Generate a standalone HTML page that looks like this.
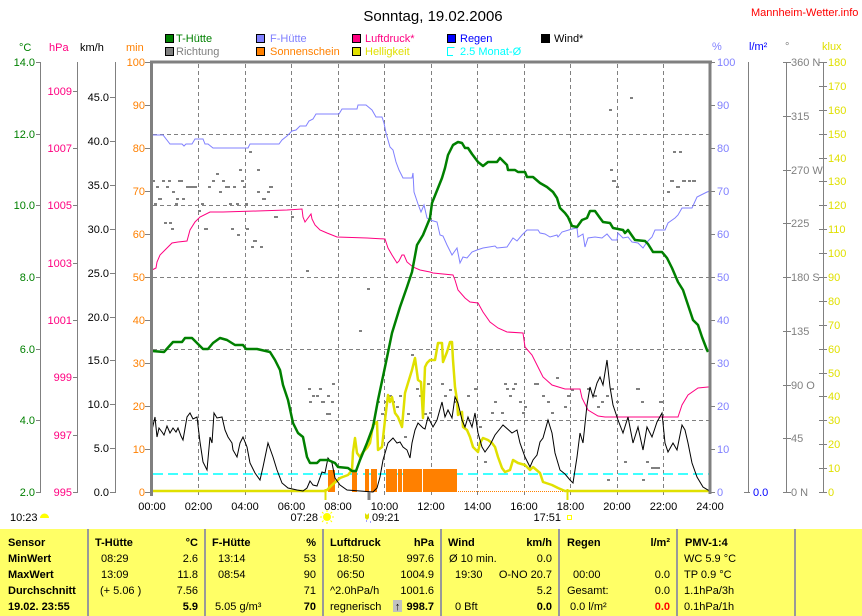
<!DOCTYPE html>
<html><head><meta charset="utf-8"><style>
html,body{margin:0;padding:0;background:#fff;}
svg{display:block;font-family:"Liberation Sans",sans-serif;}
</style></head><body>
<svg width="862" height="616" viewBox="0 0 862 616" xmlns="http://www.w3.org/2000/svg">
<rect x="0" y="0" width="862" height="616" fill="#fff"/>
<!-- Title -->
<text x="433" y="21" font-size="15" text-anchor="middle" fill="#000">Sonntag, 19.02.2006</text>
<text x="751" y="16" font-size="11" fill="#FF0000">Mannheim-Wetter.info</text>

<!-- Legend -->
<g font-size="11">
<rect x="165.5" y="34.5" width="8" height="8" fill="#008000" stroke="#000"/><text x="176" y="42" fill="#008000">T-Hütte</text>
<rect x="165.5" y="47.5" width="8" height="8" fill="#808080" stroke="#000"/><text x="176" y="55" fill="#808080">Richtung</text>
<rect x="256.5" y="34.5" width="8" height="8" fill="#8080FF" stroke="#000"/><text x="270" y="42" fill="#8080FF">F-Hütte</text>
<rect x="256.5" y="47.5" width="8" height="8" fill="#FF8000" stroke="#000"/><text x="270" y="55" fill="#FF8000">Sonnenschein</text>
<rect x="352.5" y="34.5" width="8" height="8" fill="#FF0080" stroke="#000"/><text x="365" y="42" fill="#FF0080">Luftdruck*</text>
<rect x="352.5" y="47.5" width="8" height="8" fill="#E0E000" stroke="#000"/><text x="365" y="55" fill="#E0E000">Helligkeit</text>
<rect x="447.5" y="34.5" width="8" height="8" fill="#0000FF" stroke="#000"/><text x="460" y="42" fill="#0000FF">Regen</text>
<path d="M454.5,47.5 H447.5 V55.5 H453" fill="none" stroke="#00FFFF"/><text x="460" y="55" fill="#00FFFF">2.5 Monat-Ø</text>
<rect x="541.5" y="34.5" width="8" height="8" fill="#000" stroke="#000"/><text x="554" y="42" fill="#000">Wind*</text>
</g>

<!-- Axis headers -->
<g font-size="11">
<text x="19" y="51" fill="#008000">°C</text>
<text x="49" y="51" fill="#FF0080">hPa</text>
<text x="80" y="51" fill="#000">km/h</text>
<text x="126" y="51" fill="#FF8000">min</text>
<text x="712" y="50" fill="#8080FF">%</text>
<text x="749" y="50" fill="#0000FF">l/m²</text>
<text x="785" y="50" fill="#808080">°</text>
<text x="822" y="50" fill="#E0E000">klux</text>
</g>

<!-- Left axes -->
<g stroke="#808080" stroke-width="1" fill="none">
<line x1="40.5" y1="62" x2="40.5" y2="492"/>
<line x1="77.5" y1="62" x2="77.5" y2="492"/>
<line x1="115.5" y1="62" x2="115.5" y2="492"/>
<path d="M36,62.5H41 M36,134.5H41 M36,205.5H41 M36,277.5H41 M36,349.5H41 M36,420.5H41 M36,492.5H41"/>
<path d="M73,91.5H78 M73,148.5H78 M73,205.5H78 M73,263.5H78 M73,320.5H78 M73,377.5H78 M73,435.5H78 M73,492.5H78"/>
<path d="M110,97.5H116 M110,141.5H116 M110,185.5H116 M110,229.5H116 M110,273.5H116 M110,317.5H116 M110,360.5H116 M110,404.5H116 M110,448.5H116 M110,492.5H116"/>
<path d="M145,62.5H151 M145,105.5H151 M145,148.5H151 M145,191.5H151 M145,234.5H151 M145,277.5H151 M145,320.5H151 M145,363.5H151 M145,406.5H151 M145,449.5H151 M145,492.5H151"/>
</g>
<g font-size="11" text-anchor="end">
<g fill="#008000">
<text x="35" y="66">14.0</text><text x="35" y="138">12.0</text><text x="35" y="209">10.0</text><text x="35" y="281">8.0</text><text x="35" y="353">6.0</text><text x="35" y="424">4.0</text><text x="35" y="496">2.0</text>
</g>
<g fill="#FF0080">
<text x="72" y="95">1009</text><text x="72" y="152">1007</text><text x="72" y="209">1005</text><text x="72" y="267">1003</text><text x="72" y="324">1001</text><text x="72" y="381">999</text><text x="72" y="439">997</text><text x="72" y="496">995</text>
</g>
<g fill="#000">
<text x="109" y="101">45.0</text><text x="109" y="145">40.0</text><text x="109" y="189">35.0</text><text x="109" y="233">30.0</text><text x="109" y="277">25.0</text><text x="109" y="321">20.0</text><text x="109" y="364">15.0</text><text x="109" y="408">10.0</text><text x="109" y="452">5.0</text><text x="109" y="496">0.0</text>
</g>
<g fill="#FF8000">
<text x="145" y="66">100</text><text x="145" y="109">90</text><text x="145" y="152">80</text><text x="145" y="195">70</text><text x="145" y="238">60</text><text x="145" y="281">50</text><text x="145" y="324">40</text><text x="145" y="367">30</text><text x="145" y="410">20</text><text x="145" y="453">10</text><text x="145" y="496">0</text>
</g>
</g>

<!-- Right axes -->
<g stroke="#808080" stroke-width="1" fill="none">
<path d="M711,62.5H715 M711,105.5H715 M711,148.5H715 M711,191.5H715 M711,234.5H715 M711,277.5H715 M711,320.5H715 M711,363.5H715 M711,406.5H715 M711,449.5H715 M711,492.5H715"/>
<line x1="748.5" y1="62" x2="748.5" y2="493"/>
<path d="M744,492.5H750"/>
<line x1="786.5" y1="62" x2="786.5" y2="493"/>
<path d="M783,62.5H791 M783,116.5H791 M783,170.5H791 M783,223.5H791 M783,277.5H791 M783,331.5H791 M783,385.5H791 M783,438.5H791 M783,492.5H791"/>
<line x1="823.5" y1="62" x2="823.5" y2="493"/>
<path d="M819,62.5H827 M819,86.5H827 M819,110.5H827 M819,134.5H827 M819,158.5H827 M819,181.5H827 M819,205.5H827 M819,229.5H827 M819,253.5H827 M819,277.5H827 M819,301.5H827 M819,325.5H827 M819,349.5H827 M819,373.5H827 M819,396.5H827 M819,420.5H827 M819,444.5H827 M819,468.5H827 M819,492.5H827"/>
</g>
<g font-size="11">
<g fill="#8080FF">
<text x="717" y="66">100</text><text x="717" y="109">90</text><text x="717" y="152">80</text><text x="717" y="195">70</text><text x="717" y="238">60</text><text x="717" y="281">50</text><text x="717" y="324">40</text><text x="717" y="367">30</text><text x="717" y="410">20</text><text x="717" y="453">10</text><text x="717" y="496">0</text>
</g>
<text x="753" y="496" fill="#0000FF">0.0</text>
<g fill="#808080">
<text x="791" y="66">360 N</text><text x="791" y="120">315</text><text x="791" y="174">270 W</text><text x="791" y="227">225</text><text x="791" y="281">180 S</text><text x="791" y="335">135</text><text x="791" y="389">90 O</text><text x="791" y="442">45</text><text x="791" y="496">0 N</text>
</g>
<g fill="#E0E000">
<text x="828" y="66">180</text><text x="828" y="90">170</text><text x="828" y="114">160</text><text x="828" y="138">150</text><text x="828" y="162">140</text><text x="828" y="185">130</text><text x="828" y="209">120</text><text x="828" y="233">110</text><text x="828" y="257">100</text><text x="828" y="281">90</text><text x="828" y="305">80</text><text x="828" y="329">70</text><text x="828" y="353">60</text><text x="828" y="377">50</text><text x="828" y="400">40</text><text x="828" y="424">30</text><text x="828" y="448">20</text><text x="828" y="472">10</text><text x="828" y="496">0</text>
</g>
</g>

<!-- Grid -->
<g stroke="#808080" stroke-width="1" stroke-dasharray="4,3" fill="none">
<path d="M153,134.5H709 M153,205.5H709 M153,277.5H709 M153,349.5H709 M153,420.5H709"/>
<path d="M198.5,64V498 M245.5,64V498 M291.5,64V498 M338.5,64V498 M384.5,64V498 M431.5,64V498 M477.5,64V498 M524.5,64V498 M570.5,64V498 M617.5,64V498 M663.5,64V498"/>
</g>

<!-- Cyan average -->
<line x1="153" y1="474" x2="709" y2="474" stroke="#00FFFF" stroke-width="1.5" stroke-dasharray="10,5"/>

<!-- Sunshine bars -->
<g fill="#FF8000">
<rect x="328" y="470" width="7" height="22"/>
<rect x="352" y="470" width="5" height="22"/>
<rect x="365" y="469" width="4" height="23"/>
<rect x="371" y="469" width="6" height="23"/>
<rect x="386" y="469" width="11" height="23"/>
<rect x="398" y="469" width="4" height="23"/>
<rect x="403" y="469" width="19" height="23"/>
<rect x="423" y="469" width="34" height="23"/>
</g>
<line x1="458" y1="491.5" x2="565" y2="491.5" stroke="#FF8000" stroke-dasharray="1,1"/>

<!-- Richtung dots -->
<g fill="#808080">
<rect x="152" y="180" width="3" height="2"/><rect x="162" y="180" width="3" height="2"/><rect x="168" y="180" width="3" height="2"/><rect x="178" y="180" width="5" height="2"/>
<rect x="156" y="186" width="3" height="2"/><rect x="166" y="186" width="3" height="2"/><rect x="186" y="186" width="11" height="2"/><rect x="208" y="186" width="3" height="2"/>
<rect x="212" y="180" width="3" height="2"/><rect x="222" y="180" width="3" height="2"/><rect x="225" y="186" width="5" height="2"/><rect x="233" y="186" width="3" height="2"/>
<rect x="241" y="180" width="3" height="2"/><rect x="243" y="186" width="3" height="2"/><rect x="269" y="186" width="4" height="2"/>
<rect x="172" y="191" width="3" height="2"/><rect x="219" y="191" width="3" height="2"/><rect x="257" y="191" width="3" height="2"/><rect x="267" y="191" width="3" height="2"/>
<rect x="158" y="198" width="4" height="2"/><rect x="176" y="198" width="3" height="2"/><rect x="182" y="198" width="3" height="2"/><rect x="262" y="198" width="4" height="2"/>
<rect x="154" y="203" width="3" height="2"/><rect x="175" y="203" width="3" height="2"/><rect x="201" y="203" width="3" height="2"/><rect x="229" y="203" width="3" height="2"/><rect x="236" y="203" width="3" height="2"/><rect x="245" y="203" width="3" height="2"/>
<rect x="198" y="210" width="3" height="2"/><rect x="164" y="222" width="3" height="2"/><rect x="169" y="222" width="3" height="2"/><rect x="171" y="228" width="3" height="2"/><rect x="204" y="228" width="4" height="2"/>
<rect x="231" y="228" width="3" height="2"/><rect x="246" y="228" width="3" height="2"/><rect x="237" y="234" width="3" height="2"/><rect x="253" y="240" width="4" height="2"/><rect x="251" y="246" width="3" height="2"/><rect x="260" y="246" width="3" height="2"/>
<rect x="274" y="216" width="4" height="2"/><rect x="291" y="216" width="3" height="2"/><rect x="306" y="270" width="3" height="2"/><rect x="239" y="169" width="3" height="2"/><rect x="257" y="169" width="3" height="2"/><rect x="216" y="173" width="3" height="2"/><rect x="249" y="151" width="3" height="2"/>
<rect x="308" y="388" width="3" height="2"/><rect x="319" y="388" width="3" height="2"/><rect x="312" y="395" width="3" height="2"/><rect x="316" y="395" width="3" height="2"/><rect x="327" y="395" width="3" height="2"/>
<rect x="309" y="401" width="3" height="2"/><rect x="321" y="401" width="4" height="2"/><rect x="331" y="401" width="3" height="2"/><rect x="326" y="413" width="5" height="2"/><rect x="332" y="383" width="3" height="2"/>
<rect x="359" y="330" width="3" height="2"/><rect x="367" y="288" width="3" height="2"/><rect x="377" y="401" width="3" height="2"/><rect x="381" y="413" width="3" height="2"/><rect x="384" y="401" width="3" height="2"/>
<rect x="389" y="395" width="3" height="2"/><rect x="392" y="401" width="3" height="2"/><rect x="396" y="406" width="3" height="2"/><rect x="399" y="395" width="3" height="2"/><rect x="404" y="436" width="3" height="2"/>
<rect x="407" y="413" width="3" height="2"/><rect x="411" y="354" width="3" height="2"/><rect x="416" y="388" width="3" height="2"/><rect x="419" y="395" width="5" height="2"/><rect x="424" y="413" width="3" height="2"/><rect x="427" y="383" width="3" height="2"/>
<rect x="429" y="412" width="3" height="2"/><rect x="441" y="383" width="3" height="2"/><rect x="444" y="395" width="3" height="2"/><rect x="449" y="389" width="3" height="2"/><rect x="454" y="401" width="3" height="2"/>
<rect x="467" y="395" width="3" height="2"/><rect x="474" y="388" width="3" height="2"/><rect x="479" y="426" width="3" height="2"/><rect x="484" y="461" width="3" height="2"/><rect x="491" y="412" width="3" height="2"/>
<rect x="494" y="401" width="3" height="2"/><rect x="501" y="412" width="3" height="2"/><rect x="504" y="383" width="3" height="2"/><rect x="506" y="388" width="3" height="2"/><rect x="509" y="395" width="3" height="2"/>
<rect x="512" y="388" width="3" height="2"/><rect x="514" y="383" width="3" height="2"/><rect x="519" y="401" width="3" height="2"/><rect x="522" y="412" width="3" height="2"/><rect x="524" y="406" width="3" height="2"/>
<rect x="534" y="383" width="5" height="2"/><rect x="542" y="395" width="3" height="2"/><rect x="547" y="401" width="3" height="2"/><rect x="551" y="412" width="3" height="2"/><rect x="556" y="377" width="3" height="2"/>
<rect x="564" y="406" width="3" height="2"/><rect x="567" y="395" width="3" height="2"/><rect x="571" y="389" width="3" height="2"/><rect x="587" y="388" width="3" height="2"/><rect x="594" y="395" width="3" height="2"/>
<rect x="597" y="406" width="3" height="2"/><rect x="601" y="401" width="3" height="2"/><rect x="606" y="395" width="3" height="2"/><rect x="607" y="479" width="3" height="2"/><rect x="611" y="388" width="3" height="2"/>
<rect x="616" y="401" width="3" height="2"/><rect x="624" y="461" width="3" height="2"/><rect x="636" y="388" width="4" height="2"/><rect x="641" y="401" width="3" height="2"/><rect x="642" y="479" width="3" height="2"/>
<rect x="646" y="461" width="3" height="2"/><rect x="651" y="467" width="9" height="2"/><rect x="659" y="401" width="5" height="2"/>
<rect x="609" y="109" width="3" height="2"/><rect x="630" y="97" width="3" height="2"/><rect x="610" y="169" width="3" height="2"/><rect x="612" y="180" width="4" height="2"/><rect x="616" y="186" width="3" height="2"/>
<rect x="667" y="191" width="3" height="2"/><rect x="670" y="180" width="4" height="2"/><rect x="673" y="151" width="3" height="2"/><rect x="679" y="151" width="3" height="2"/><rect x="676" y="186" width="4" height="2"/>
<rect x="682" y="180" width="4" height="2"/><rect x="688" y="180" width="3" height="2"/><rect x="692" y="180" width="4" height="2"/>
</g>

<!-- F-Hütte -->
<polyline fill="none" stroke="#8080FF" stroke-width="1" points="152,135 163,135 170,144 182,144 184,146 186,144 192,144 195,139 203,139 205,144 208,144 213,148 248,148 250,144 279,144 282,140 287,136 292,131 296,130 300,126 306,126 309,121 313,119 316,114 339,114 342,109 357,109 358,105 366,105 372,110 376,117 382,117 384,123 386,133 388,140 390,147 393,150 396,162 399,170 403,178 412,178 413,173 414,192 418,204 421,212 424,205 427,218 430,220 437,222 440,235 443,236 447,245 452,255 457,248 460,263 463,257 467,258 472,252 477,250 483,248 495,246 497,248 507,247 513,238 517,241 522,235 527,230 538,230 540,233 545,234 550,237 557,235 558,237 562,232 572,229 577,228 578,237 583,234 585,247 588,238 595,237 602,238 607,234 612,240 617,240 618,233 623,238 628,237 632,242 638,243 643,248 647,242 652,237 655,230 665,230 668,223 675,218 678,215 682,208 692,208 697,197 707,192 710,191"/>

<!-- Luftdruck -->
<polyline fill="none" stroke="#FF0080" stroke-width="1" points="152,270 156,268 157,262 160,255 165,250 172,243 178,242 187,241 190,230 195,222 200,217 210,212 223,212 257,211 287,210 302,209 303,217 305,222 308,218 311,214 312,219 315,225 320,230 327,233 337,237 367,238 385,239 388,248 392,255 397,263 399,261 402,255 404,255 407,262 413,267 420,270 430,272 433,273 453,275 455,280 458,290 465,298 470,302 478,303 483,312 490,322 498,328 507,332 523,333 525,347 532,355 538,367 543,377 552,385 565,389 580,389 582,398 588,410 598,416 605,417 678,417 682,405 688,395 698,388 708,387 710,387"/>

<!-- Helligkeit -->
<polyline fill="none" stroke="#E0E000" stroke-width="2.5" stroke-linejoin="round" points="152,491 325,491 327,490 332,485 340,478 348,475 352,470 353,452 355,438 357,453 360,457 363,452 367,448 370,443 373,425 377,422 378,450 382,447 385,420 388,395 390,402 392,397 395,413 398,417 402,427 405,393 408,383 412,370 415,358 418,380 421,382 423,418 425,367 427,363 430,360 435,360 438,343 442,343 443,362 447,352 450,342 452,342 453,360 455,387 457,400 458,415 462,412 463,427 467,430 470,437 473,447 478,452 480,443 483,438 488,440 492,443 495,447 498,457 502,468 505,472 510,470 513,460 518,463 525,465 530,470 533,467 540,473 543,482 552,485 558,488 565,491 710,491"/>

<!-- Wind -->
<polyline fill="none" stroke="#000" stroke-width="1" points="152,430 155,417 157,437 159,428 162,432 164,435 167,426 170,433 173,428 176,432 178,428 181,436 183,440 187,417 190,413 193,419 197,417 200,442 203,462 207,470 210,437 212,443 214,413 217,418 222,417 225,430 228,437 232,443 233,450 237,457 240,443 243,437 247,447 250,463 255,473 260,480 263,467 268,443 273,457 277,470 282,483 288,488 297,490 303,491 307,488 310,481 313,485 317,486 322,472 325,473 328,458 332,463 335,478 340,485 347,490 373,492 377,488 380,477 383,460 388,443 393,438 397,443 400,442 403,447 407,450 410,458 412,443 415,430 418,423 423,428 425,429 428,417 433,427 437,420 442,402 445,417 448,410 452,418 455,397 458,403 462,420 465,427 468,417 472,427 475,413 478,433 482,447 485,452 490,445 495,435 503,425 512,433 517,430 520,443 525,457 530,467 533,460 537,455 540,442 543,438 548,420 552,433 555,453 560,470 565,474 570,480 573,483 577,457 580,433 583,443 587,405 590,387 593,397 597,383 600,377 603,385 607,360 610,387 613,405 618,420 623,433 628,417 633,443 638,427 643,450 647,427 652,437 657,422 662,413 665,443 668,452 673,443 677,450 682,425 685,430 688,443 692,463 697,477 703,487 708,490 710,491"/>

<!-- T-Hütte -->
<polyline fill="none" stroke="#008000" stroke-width="2.5" stroke-linejoin="round" points="152,351 164,352 173,342 182,342 185,338 192,338 198,344 203,349 208,349 213,343 220,338 227,340 235,345 243,345 246,349 257,349 270,352 275,360 280,370 283,385 288,400 293,423 298,433 303,437 307,457 310,463 317,463 320,460 328,460 335,463 338,467 348,468 352,471 356,471 360,460 367,443 373,427 378,400 385,367 392,333 400,307 407,287 412,272 417,245 423,235 430,218 432,203 438,188 442,178 445,168 448,155 453,145 458,142 462,143 465,148 468,148 472,154 475,158 478,162 483,166 488,162 497,162 500,158 507,165 508,170 515,170 518,172 525,172 527,177 533,177 540,183 547,187 553,192 557,198 560,208 565,213 568,217 572,226 577,227 582,220 587,218 590,211 595,211 600,218 603,222 610,223 613,228 623,230 625,233 628,230 635,240 645,241 648,244 653,252 662,252 667,258 672,268 675,275 678,282 683,290 688,305 693,320 698,325 702,337 707,350 708,352"/>

<!-- Plot frame -->
<g stroke="#808080" stroke-width="3" fill="none">
<line x1="150" y1="62" x2="712" y2="62"/>
<line x1="151.5" y1="61" x2="151.5" y2="496"/>
<line x1="710" y1="61" x2="710" y2="494"/>
</g>

<!-- Markers -->
<line x1="325.5" y1="489" x2="325.5" y2="500" stroke="#E0E000" stroke-width="2"/>
<line x1="567.5" y1="489" x2="567.5" y2="500" stroke="#E0E000" stroke-width="2"/>
<line x1="369" y1="492" x2="369" y2="500" stroke="#808080" stroke-width="3"/>

<!-- Time labels -->
<g font-size="11" text-anchor="middle" fill="#000">
<text x="152" y="510">00:00</text><text x="198.5" y="510">02:00</text><text x="245" y="510">04:00</text><text x="291.5" y="510">06:00</text><text x="338" y="510">08:00</text><text x="384.5" y="510">10:00</text><text x="431" y="510">12:00</text><text x="477.5" y="510">14:00</text><text x="524" y="510">16:00</text><text x="570.5" y="510">18:00</text><text x="617" y="510">20:00</text><text x="663.5" y="510">22:00</text><text x="710" y="510">24:00</text>
</g>
<g font-size="11" fill="#000">
<text x="10" y="521">10:23</text>
<text x="318" y="521" text-anchor="end">07:28</text>
<text x="372" y="521">09:21</text>
<text x="561" y="521" text-anchor="end">17:51</text>
</g>
<path d="M40,518 A4.5,4.5 0 0 1 49,518 Z" fill="#FFFF00"/>
<g stroke="#FFFF00" stroke-width="1">
<circle cx="327" cy="517" r="3.5" fill="#FFFF00"/>
<path d="M327,510V512 M327,522V524 M320,517H322 M332,517H334 M322,512L323.5,513.5 M330.5,520.5L332,522 M322,522L323.5,520.5 M330.5,513.5L332,512"/>
</g>
<path d="M365,513 L365,518 L367,520 L369,518 L369,513 L367,515 Z" fill="#E0E000"/>
<path d="M366,521h1 M370,522h1" stroke="#4040FF"/>
<rect x="567.5" y="515.5" width="4" height="4" fill="none" stroke="#FFFF00"/>

<!-- Table -->
<rect x="0" y="529" width="862" height="87" fill="#FFFF66"/>
<g stroke="#999" stroke-width="2">
<line x1="88" y1="529" x2="88" y2="616"/><line x1="205" y1="529" x2="205" y2="616"/><line x1="323" y1="529" x2="323" y2="616"/><line x1="441" y1="529" x2="441" y2="616"/><line x1="559" y1="529" x2="559" y2="616"/><line x1="677" y1="529" x2="677" y2="616"/><line x1="795" y1="529" x2="795" y2="616"/>
</g>
<g font-size="11" fill="#000">
<g font-weight="bold">
<text x="8" y="546">Sensor</text><text x="8" y="562">MinWert</text><text x="8" y="578">MaxWert</text><text x="8" y="594">Durchschnitt</text><text x="8" y="610">19.02. 23:55</text>
<text x="95" y="546">T-Hütte</text><text x="198" y="546" text-anchor="end">°C</text>
<text x="212" y="546">F-Hütte</text><text x="316" y="546" text-anchor="end">%</text>
<text x="330" y="546">Luftdruck</text><text x="434" y="546" text-anchor="end">hPa</text>
<text x="448" y="546">Wind</text><text x="552" y="546" text-anchor="end">km/h</text>
<text x="567" y="546">Regen</text><text x="670" y="546" text-anchor="end">l/m²</text>
<text x="685" y="546">PMV-1:4</text>
<text x="198" y="610" text-anchor="end">5.9</text>
<text x="316" y="610" text-anchor="end">70</text>
<text x="434" y="610" text-anchor="end">998.7</text>
<text x="552" y="610" text-anchor="end">0.0</text>
<text x="670" y="610" text-anchor="end" fill="#FF0000">0.0</text>
</g>
<text x="101" y="562">08:29</text><text x="198" y="562" text-anchor="end">2.6</text>
<text x="101" y="578">13:09</text><text x="198" y="578" text-anchor="end">11.8</text>
<text x="100" y="594">(+ 5.06 )</text><text x="198" y="594" text-anchor="end">7.56</text>
<text x="218" y="562">13:14</text><text x="316" y="562" text-anchor="end">53</text>
<text x="218" y="578">08:54</text><text x="316" y="578" text-anchor="end">90</text>
<text x="316" y="594" text-anchor="end">71</text>
<text x="215" y="610">5.05 g/m³</text>
<text x="337" y="562">18:50</text><text x="434" y="562" text-anchor="end">997.6</text>
<text x="337" y="578">06:50</text><text x="434" y="578" text-anchor="end">1004.9</text>
<text x="330" y="594">^2.0hPa/h</text><text x="434" y="594" text-anchor="end">1001.6</text>
<text x="330" y="610">regnerisch</text>
<text x="449" y="562">Ø 10 min.</text><text x="552" y="562" text-anchor="end">0.0</text>
<text x="455" y="578">19:30</text><text x="552" y="578" text-anchor="end">O-NO 20.7</text>
<text x="552" y="594" text-anchor="end">5.2</text>
<text x="455" y="610">0 Bft</text>
<text x="573" y="578">00:00</text><text x="670" y="578" text-anchor="end">0.0</text>
<text x="567" y="594">Gesamt:</text><text x="670" y="594" text-anchor="end">0.0</text>
<text x="570" y="610">0.0 l/m²</text>
<text x="684" y="562">WC 5.9 °C</text>
<text x="684" y="578">TP 0.9 °C</text>
<text x="684" y="594">1.1hPa/3h</text>
<text x="684" y="610">0.1hPa/1h</text>
</g>
<rect x="393" y="600" width="9" height="12" fill="#C0C0C0"/>
<text x="397.5" y="610" font-size="11" font-weight="bold" text-anchor="middle" fill="#000">↑</text>
</svg>
</body></html>
